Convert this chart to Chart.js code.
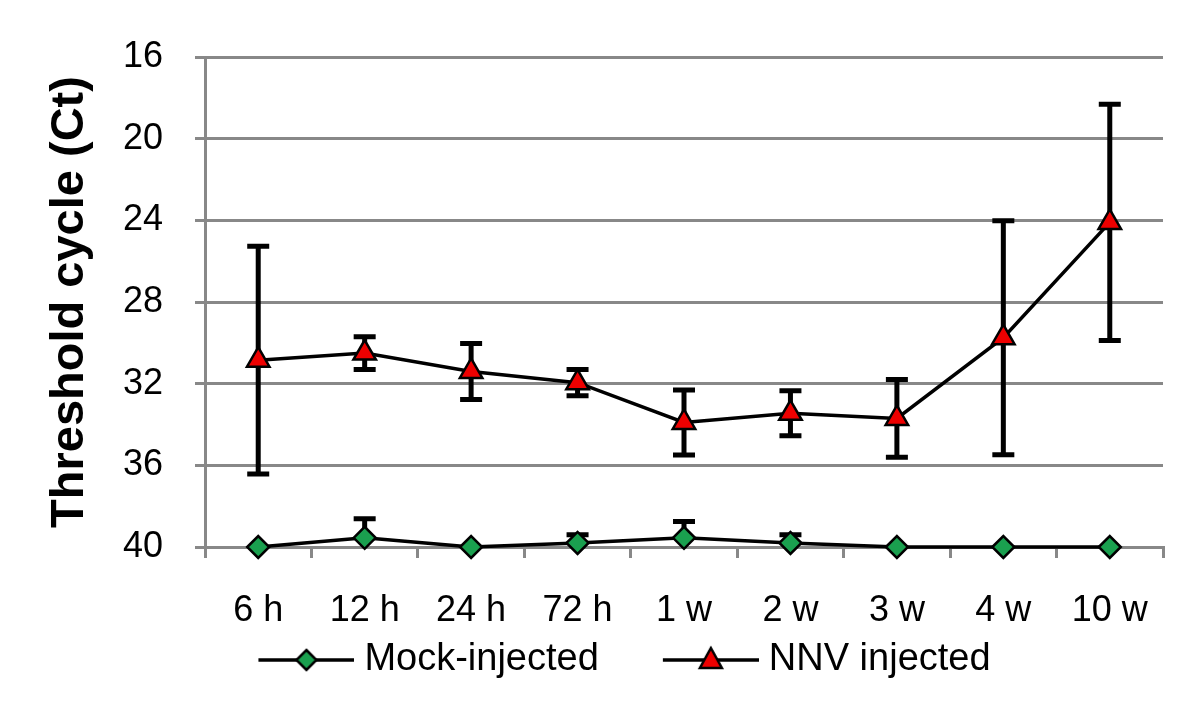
<!DOCTYPE html>
<html>
<head>
<meta charset="utf-8">
<script src="https://cdn.jsdelivr.net/npm/chart.js@4/dist/chart.umd.min.js"></script>
<style>
  html, body { margin: 0; padding: 0; background: #fff; }
  #wrap { width: 1200px; height: 716px; }
</style>
</head>
<body>
<div id="wrap"><canvas id="ctChart" width="1200" height="716"></canvas></div>
<script>
// time points after injection
const timePoints = ['6 h', '12 h', '24 h', '72 h', '1 w', '2 w', '3 w', '4 w', '10 w'];

// mean Ct and error (±) per series
const mockCt = [40, 39.55, 40, 39.8, 39.55, 39.8, 40, 40, 40];
const mockErr = [0, 0.93, 0, 0.4, 0.8, 0.4, 0, 0, 0];
const nnvCt = [30.85, 30.5, 31.4, 31.95, 33.9, 33.45, 33.7, 29.75, 24.1];
const nnvErr = [5.58, 0.8, 1.37, 0.64, 1.59, 1.1, 1.91, 5.73, 5.78];

const yMin = 16, yMax = 40, yStep = 4;

const FONT = '"Liberation Sans", Arial, Helvetica, sans-serif';
const GRID = '#888888';
Chart.defaults.color = '#000';
Chart.defaults.font.family = FONT;

// legend swatch: line with marker, like the spreadsheet legend
function legendSwatch(shape, fill) {
    const c = document.createElement('canvas');
    c.width = 159; c.height = 32;
    const g = c.getContext('2d');
    g.strokeStyle = '#000';
    g.lineWidth = 3.5;
    g.beginPath(); g.moveTo(63, 16); g.lineTo(159, 16); g.stroke();
    g.fillStyle = fill;
    g.lineWidth = 2.5;
    g.beginPath();
    if (shape === 'diamond') {
        g.moveTo(111, 6); g.lineTo(121, 16); g.lineTo(111, 26); g.lineTo(101, 16);
    } else {
        g.moveTo(111, 4); g.lineTo(122, 24); g.lineTo(100, 24);
    }
    g.closePath(); g.fill(); g.stroke();
    return c;
}
const swatches = [legendSwatch('diamond', '#1aa04f'), legendSwatch('triangle', '#ee0000')];

// vertical error bars with caps, drawn under the markers
const errorBars = {
    id: 'errorBars',
    beforeDatasetsDraw(chart) {
        const { ctx, chartArea, scales: { x, y } } = chart;
        ctx.save();
        ctx.beginPath();
        ctx.rect(chartArea.left, chartArea.top - 20, chartArea.right - chartArea.left, chartArea.bottom - chartArea.top + 21);
        ctx.clip();
        ctx.strokeStyle = '#000';
        ctx.lineWidth = 5;
        chart.data.datasets.forEach((ds) => {
            ds.data.forEach((v, i) => {
                const e = ds.errors[i];
                if (!e) return;
                const px = x.getPixelForValue(i);
                const top = y.getPixelForValue(v - e);
                const bot = y.getPixelForValue(v + e);
                ctx.beginPath();
                ctx.moveTo(px, top); ctx.lineTo(px, bot);
                ctx.moveTo(px - 11, top); ctx.lineTo(px + 11, top);
                ctx.moveTo(px - 11, bot); ctx.lineTo(px + 11, bot);
                ctx.stroke();
            });
        });
        ctx.restore();
    }
};

new Chart(document.getElementById('ctChart'), {
    type: 'line',
    data: {
        labels: timePoints,
        datasets: [
            {
                label: 'Mock-injected',
                data: mockCt,
                errors: mockErr,
                clip: false,
                borderColor: '#000',
                borderWidth: 3.5,
                pointStyle: 'rectRot',
                pointRadius: 11,
                pointBackgroundColor: '#1aa04f',
                pointBorderColor: '#000',
                pointBorderWidth: 2.5,
                tension: 0
            },
            {
                label: 'NNV injected',
                data: nnvCt,
                errors: nnvErr,
                clip: false,
                borderColor: '#000',
                borderWidth: 3.5,
                pointStyle: 'triangle',
                pointRadius: 13,
                pointBackgroundColor: '#ee0000',
                pointBorderColor: '#000',
                pointBorderWidth: 2.5,
                tension: 0
            }
        ]
    },
    options: {
        responsive: false,
        animation: false,
        layout: { padding: { left: 32, right: 37, top: 57, bottom: 27 } },
        scales: {
            x: {
                offset: true,
                grid: { offset: true, drawOnChartArea: false, color: GRID, lineWidth: 3, tickLength: 11 },
                border: { display: true, color: GRID, width: 3 },
                ticks: { font: { size: 36 }, padding: 31, maxRotation: 0, autoSkip: false },
                afterFit(scale) { scale.height = 84; }
            },
            y: {
                reverse: true,
                min: yMin,
                max: yMax,
                ticks: { stepSize: yStep, font: { size: 36 }, padding: 32 },
                grid: { color: GRID, lineWidth: 3, tickLength: 10 },
                border: { display: true, color: GRID, width: 3 },
                title: {
                    display: true,
                    text: 'Threshold cycle (Ct)',
                    font: { size: 47, weight: 'bold' },
                    padding: { top: 10, bottom: 0 }
                },
                afterFit(scale) { scale.width = 173; }
            }
        },
        plugins: {
            legend: {
                position: 'bottom',
                labels: {
                    usePointStyle: true,
                    pointStyleWidth: 141,
                    padding: 10,
                    font: { size: 38 },
                    generateLabels(chart) {
                        return chart.data.datasets.map((ds, i) => ({
                            text: ds.label,
                            pointStyle: swatches[i],
                            fillStyle: 'transparent',
                            strokeStyle: 'transparent',
                            lineWidth: 0,
                            fontColor: '#000',
                            datasetIndex: i,
                            hidden: false
                        }));
                    }
                }
            },
            tooltip: { enabled: false }
        }
    },
    plugins: [errorBars]
});
</script>
</body>
</html>
